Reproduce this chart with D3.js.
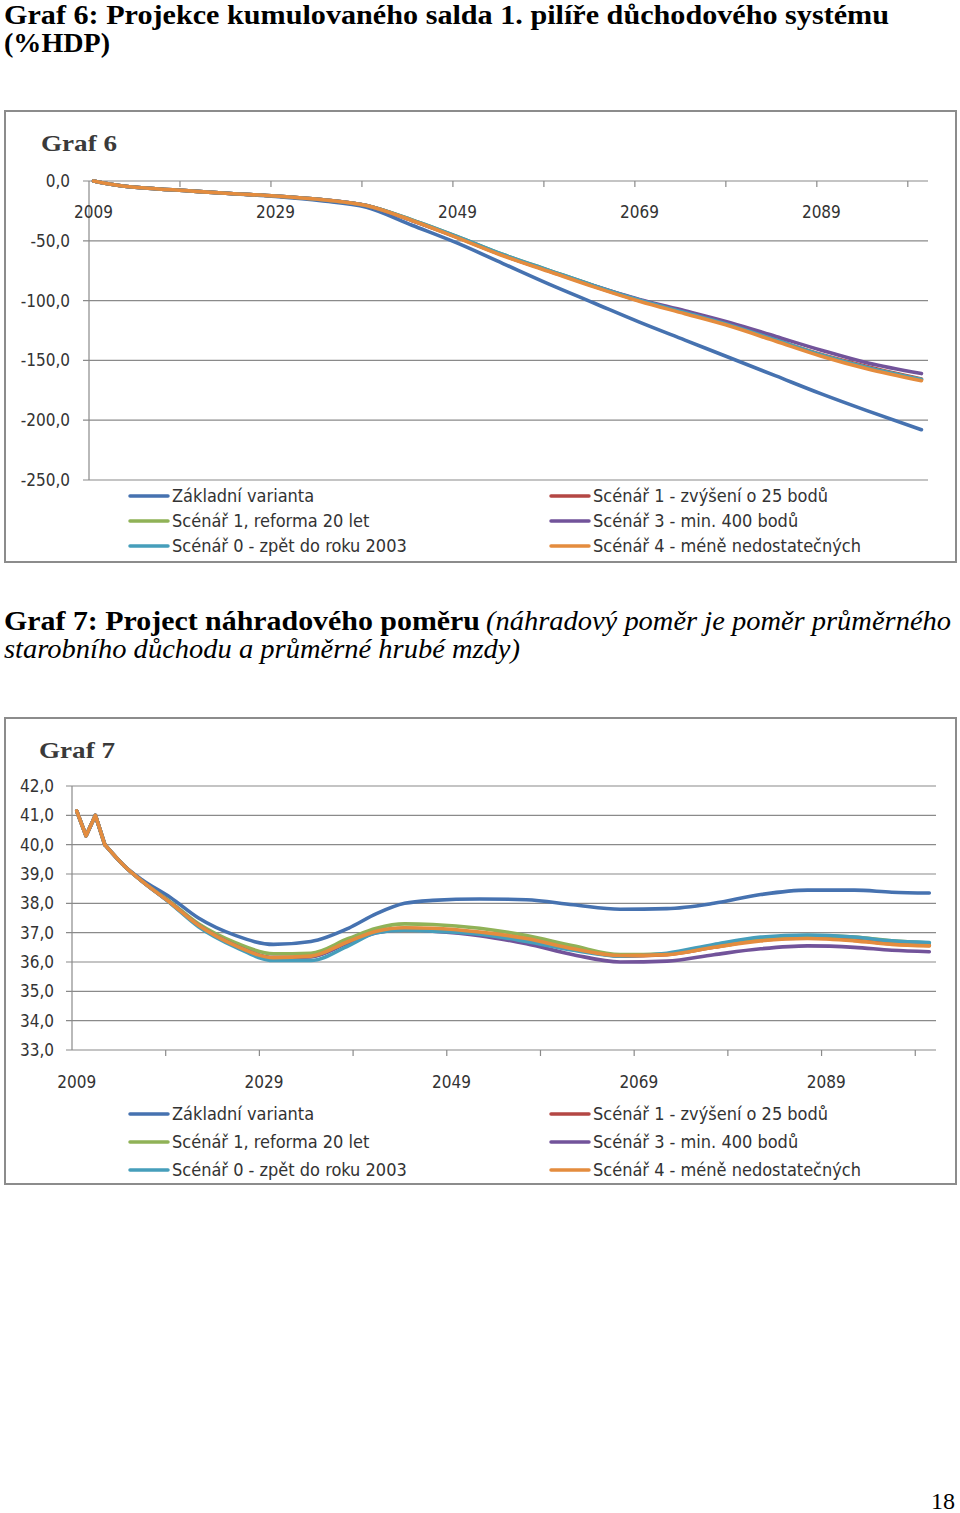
<!DOCTYPE html>
<html><head><meta charset="utf-8">
<script src="https://cdn.jsdelivr.net/npm/d3@7"></script>
<style>
html,body{margin:0;padding:0;background:#fff;}
svg{display:block;}
</style></head>
<body>
<script>
// ---------- DATA ----------
const seriesNames = ["Základní varianta","Scénář 1 - zvýšení o 25 bodů","Scénář 1, reforma 20 let","Scénář 3 - min. 400 bodů","Scénář 0 - zpět do roku 2003","Scénář 4 - méně nedostatečných"];
const seriesColors = ["#4672B0","#B44744","#90B257","#72539A","#469EBB","#E48C3E"];

// Graf 6 (% HDP)
const years6 = [2009,2012,2015,2019,2024,2029,2034,2039,2044,2049,2054,2059,2064,2069,2074,2079,2084,2089,2094,2100];
const g6Zakladni = [0,-4,-6,-8,-10.5,-13,-16.5,-22,-37,-52,-69,-86,-102,-118,-133,-148,-163,-178,-192,-208];
const g6Scen1Zvys = [0,-4,-6,-8,-10.5,-12.5,-15.5,-20.5,-33,-47,-62,-75,-88,-100,-110,-120.5,-133,-145,-155,-165.5];
const g6Scen1Ref = [0,-4,-6,-8,-10.5,-12.5,-15.5,-20.5,-32.5,-46.5,-61.5,-74.5,-87.5,-99.5,-110,-120.5,-133,-145.5,-156,-166];
const g6Scen3 = [0,-4,-6,-8,-10.5,-12.5,-15.5,-20.5,-33,-47,-62,-75,-87.5,-99,-108.5,-118.5,-130,-141.5,-152,-161];
const g6Scen0 = [0,-4,-6,-8,-10.5,-12.5,-15.5,-20.5,-32.5,-46.5,-61.5,-74.5,-87.5,-99.5,-110,-120.5,-133,-145.5,-156,-166];
const g6Scen4 = [0,-4,-6,-8,-10.5,-12.5,-15.5,-20.5,-33,-47.5,-62.5,-75.5,-88.5,-100.5,-111,-121.5,-134,-146.5,-157,-167];
const yTicks6 = [0,-50,-100,-150,-200,-250];
const xLabels6 = [2009,2029,2049,2069,2089];

// Graf 7 (náhradový poměr, %)
const years7 = [2009,2010,2011,2012,2014,2016,2019,2022,2026,2030,2034,2038,2041,2044,2047,2052,2057,2062,2067,2072,2077,2082,2087,2092,2096,2100];
const g7Zakladni = [41.15,40.3,41.0,40.0,39.3,38.8,38.2,37.5,36.9,36.6,36.7,37.15,37.65,38.0,38.1,38.15,38.12,37.95,37.8,37.82,38.0,38.3,38.45,38.45,38.38,38.35];
const g7Scen1Zvys = [41.15,40.3,41.0,40.0,39.3,38.75,38.02,37.25,36.55,36.15,36.18,36.68,37.05,37.15,37.12,37.0,36.78,36.45,36.2,36.25,36.5,36.75,36.82,36.75,36.62,36.56];
const g7Scen1Ref = [41.15,40.3,41.0,40.0,39.3,38.75,38.05,37.3,36.65,36.28,36.3,36.8,37.15,37.3,37.28,37.15,36.9,36.55,36.25,36.28,36.55,36.8,36.9,36.85,36.72,36.65];
const g7Scen3 = [41.15,40.3,41.0,40.0,39.3,38.75,38.02,37.25,36.55,36.15,36.18,36.65,37.0,37.1,37.05,36.9,36.62,36.25,36.0,36.03,36.25,36.45,36.55,36.5,36.4,36.35];
const g7Scen0 = [41.15,40.3,41.0,40.0,39.3,38.75,38.0,37.2,36.5,36.05,36.05,36.55,37.0,37.08,37.05,36.95,36.7,36.4,36.2,36.3,36.6,36.85,36.92,36.85,36.72,36.66];
const g7Scen4 = [41.15,40.3,41.0,40.0,39.3,38.75,38.02,37.25,36.55,36.15,36.2,36.7,37.05,37.17,37.15,37.02,36.8,36.45,36.22,36.25,36.5,36.72,36.8,36.72,36.6,36.55];
const yTicks7 = [42,41,40,39,38,37,36,35,34,33];
const xLabels7 = [2009,2029,2049,2069,2089];
const xTickYears = [2018.5,2028.5,2038.5,2048.5,2058.5,2068.5,2078.5,2088.5,2098.5];

// ---------- RENDER ----------
const W = 960, H = 1513;
const svg = d3.select("body").append("svg").attr("width", W).attr("height", H);
const cz = d3.formatLocale({decimal:",", thousands:" ", grouping:[3], currency:["","Kč"], minus:"-"});
const fmt1 = cz.format(".1f");
const serif = "'Liberation Serif','DejaVu Serif',serif";
const narrow = "'Liberation Sans Narrow','DejaVu Sans Condensed','Liberation Sans',sans-serif";

function ttl(x, y, txt, len, weight, style, size){
  const t = svg.append("text").attr("x", x).attr("y", y).text(txt)
    .attr("font-family", serif).attr("font-size", size).attr("font-weight", weight)
    .attr("font-style", style).attr("fill", "#000");
  if (len) t.attr("textLength", len).attr("lengthAdjust", "spacingAndGlyphs");
}
ttl(4, 24, "Graf 6: Projekce kumulovaného salda 1. pilíře důchodového systému", 885, "bold", "normal", 27);
ttl(4, 52, "(%HDP)", 106, "bold", "normal", 27);
ttl(4, 630, "Graf 7: Project náhradového poměru", 476, "bold", "normal", 27);
ttl(486, 630, "(náhradový poměr je poměr průměrného", 465, "normal", "italic", 27);
ttl(4, 658, "starobního důchodu a průměrné hrubé mzdy)", 516, "normal", "italic", 27);
svg.append("text").attr("x", 955).attr("y", 1509).attr("text-anchor","end").text("18")
  .attr("font-family", serif).attr("font-size", 24).attr("fill","#000");

function chart(cfg){
  const g = svg.append("g");
  g.append("rect").attr("x", cfg.frame[0]).attr("y", cfg.frame[1])
    .attr("width", cfg.frame[2]-cfg.frame[0]).attr("height", cfg.frame[3]-cfg.frame[1])
    .attr("fill","#fff").attr("stroke","#8c8c8c").attr("stroke-width",2);
  g.append("text").attr("x", cfg.titleX).attr("y", cfg.titleY).text(cfg.title)
    .attr("font-family", serif).attr("font-weight","bold").attr("font-size", 24)
    .attr("fill","#3a3a3a").attr("textLength", 76).attr("lengthAdjust","spacingAndGlyphs");

  const x = d3.scaleLinear().domain([2008.5, 2100.5]).range(cfg.xRange);
  const y = d3.scaleLinear().domain(cfg.yDomain).range(cfg.yRange);

  g.selectAll(null).data(cfg.yTicks).join("line")
    .attr("x1", cfg.xRange[0]-6).attr("x2", cfg.xRange[1]+2)
    .attr("y1", d=>y(d)).attr("y2", d=>y(d))
    .attr("stroke","#8a8a8a").attr("stroke-width",1.2);
  g.append("line").attr("x1", cfg.xRange[0]).attr("x2", cfg.xRange[0])
    .attr("y1", y(cfg.yDomain[0])).attr("y2", y(cfg.yDomain[1]))
    .attr("stroke","#8a8a8a").attr("stroke-width",1.2);
  g.selectAll(null).data(cfg.yTicks).join("text")
    .attr("x", cfg.yLabelX).attr("y", d=>y(d)).attr("dy","0.35em")
    .attr("text-anchor","end").text(d=>fmt1(d))
    .attr("font-family", narrow).attr("font-size", 17).attr("fill","#333");
  const axisY = y(cfg.xAxisAt);
  g.selectAll(null).data(xTickYears).join("line")
    .attr("x1", d=>x(d)).attr("x2", d=>x(d)).attr("y1", axisY).attr("y2", axisY+6)
    .attr("stroke","#8a8a8a").attr("stroke-width",1.2);
  g.selectAll(null).data(cfg.xLabels).join("text")
    .attr("x", d=>x(d)).attr("y", cfg.xLabelY).attr("dy","0.35em")
    .attr("text-anchor","middle").text(d=>d)
    .attr("font-family", narrow).attr("font-size", 17).attr("fill","#333");

  // lines: a sharp (linear) head for the first `sharp` points, smooth afterwards
  const pts = s => s.map((v,i)=>[cfg.years[i], v]);
  const lin = d3.line().x(d=>x(d[0])).y(d=>y(d[1])).curve(d3.curveLinear);
  const smooth = d3.line().x(d=>x(d[0])).y(d=>y(d[1])).curve(d3.curveMonotoneX);
  cfg.series.forEach((s,i)=>{
    const p = pts(s);
    const k = cfg.sharp;
    const paths = k > 0 ? [[lin, p.slice(0, k+1)], [smooth, p.slice(k)]] : [[smooth, p]];
    paths.forEach(([gen, dat])=>{
      g.append("path").datum(dat).attr("d", gen).attr("fill","none")
        .attr("stroke", seriesColors[i]).attr("stroke-width", 3.6)
        .attr("stroke-linejoin","round").attr("stroke-linecap","round");
    });
  });

  const order = [[0,1],[2,3],[4,5]];
  order.forEach((row, r)=>{
    row.forEach((si, c)=>{
      const lx = c===0 ? 130 : 551;
      const ly = cfg.legendY + r*cfg.legendStep;
      g.append("line").attr("x1", lx).attr("x2", lx+38).attr("y1", ly).attr("y2", ly)
        .attr("stroke", seriesColors[si]).attr("stroke-width", 3.5).attr("stroke-linecap","round");
      g.append("text").attr("x", lx+42).attr("y", ly).attr("dy","0.35em")
        .text(seriesNames[si]).attr("font-family", narrow).attr("font-size", 18).attr("fill","#333");
    });
  });
}

chart({
  frame:[5,111,956,562], title:"Graf 6", titleX:41, titleY:151,
  xRange:[89,926], yDomain:[-250,0], yRange:[480,181], yTicks:yTicks6, yLabelX:70,
  xAxisAt:0, xLabels:xLabels6, xLabelY:212,
  years:years6, series:[g6Zakladni,g6Scen1Zvys,g6Scen1Ref,g6Scen3,g6Scen0,g6Scen4],
  legendY:496, legendStep:25, sharp:0
});
chart({
  frame:[5,718,956,1184], title:"Graf 7", titleX:39, titleY:758,
  xRange:[72,934], yDomain:[33,42], yRange:[1050,786], yTicks:yTicks7, yLabelX:54,
  xAxisAt:33, xLabels:xLabels7, xLabelY:1082,
  years:years7, series:[g7Zakladni,g7Scen1Zvys,g7Scen1Ref,g7Scen3,g7Scen0,g7Scen4],
  legendY:1114, legendStep:28, sharp:3
});
</script>
</body></html>
